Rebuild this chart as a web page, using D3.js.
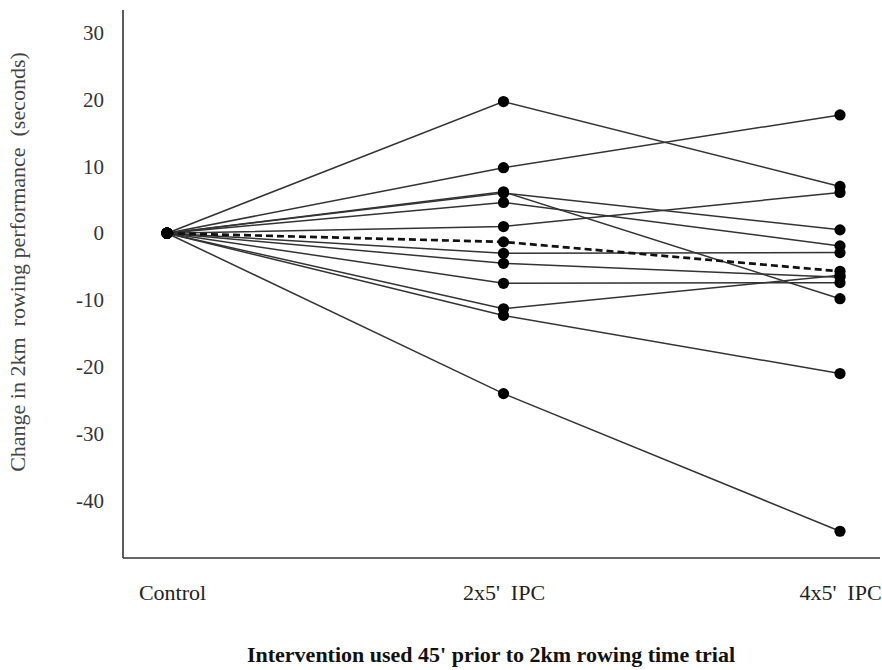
<!DOCTYPE html>
<html>
<head>
<meta charset="utf-8">
<script src="https://cdn.jsdelivr.net/npm/d3@7"></script>
<style>
  html, body { margin: 0; padding: 0; background: #fff; }
  svg { display: block; }
  text { font-family: "Liberation Serif", "Times New Roman", serif; }
</style>
</head>
<body>
<svg id="chart" width="882" height="670"></svg>
<script>
const categories = ["Control", "2x5'  IPC", "4x5'  IPC"];
const controlValues = [0, 0, 0, 0, 0, 0, 0, 0, 0, 0, 0, 0];
const ipc2Values = [19.7, 9.8, 6.2, 6.0, 4.6, 1.0, -3.0, -4.5, -7.5, -11.3, -12.3, -24.0];
const ipc4Values = [7.0, 17.7, -9.8, 0.5, -1.9, 6.1, -2.9, -6.6, -7.4, -6.3, -21.0, -44.6];
const meanValues = [0, -1.3, -5.7];
const yTicks = [30, 20, 10, 0, -10, -20, -30, -40];
const yTitle = "Change in 2km  rowing performance  (seconds)";
const xTitle = "Intervention used 45' prior to 2km rowing time trial";

(function () {
const svg = d3.select("#chart");
const pLeft = 123, pRight = 880, pTop = 10, pBottom = 558;

const x = d3.scalePoint().domain(categories).range([167, 840]);
const y = d3.scaleLinear().domain([-48.6, 33.4]).range([pBottom, pTop]);

// axes lines
svg.append("line").attr("x1", pLeft).attr("x2", pLeft).attr("y1", pTop).attr("y2", pBottom)
  .attr("stroke", "#333").attr("stroke-width", 1.6);
svg.append("line").attr("x1", pLeft).attr("x2", pRight).attr("y1", pBottom).attr("y2", pBottom)
  .attr("stroke", "#333").attr("stroke-width", 1.6);

// y axis tick labels
const yAxis = svg.append("g").attr("transform", `translate(${pLeft},0)`)
  .call(d3.axisLeft(y).tickValues(yTicks).tickSize(0).tickPadding(19).tickFormat(d => String(d)));
yAxis.select(".domain").remove();
yAxis.selectAll("text").attr("font-size", 21).attr("fill", "#333")
  .style("font-family", "'Liberation Serif', serif");

// x axis category labels
const xAxis = svg.append("g").attr("transform", `translate(0,${pBottom})`)
  .call(d3.axisBottom(x).tickSize(0).tickPadding(26));
xAxis.select(".domain").remove();
xAxis.selectAll("text").attr("font-size", 22).attr("fill", "#222")
  .style("white-space", "pre").attr("xml:space", "preserve")
  .style("font-family", "'Liberation Serif', serif");
xAxis.selectAll(".tick").filter((d, i) => i === 0).select("text").attr("dx", 5);

// subject lines
const subjects = ipc2Values.map((v, i) => [controlValues[i], v, ipc4Values[i]]);
const line = d3.line().x((d, i) => x(categories[i])).y(d => y(d));

svg.append("g").selectAll("path").data(subjects).join("path")
  .attr("d", line).attr("fill", "none").attr("stroke", "#333").attr("stroke-width", 1.5);

// mean dashed line
svg.append("path").datum(meanValues).attr("d", line).attr("fill", "none")
  .attr("stroke", "#111").attr("stroke-width", 2.7).attr("stroke-dasharray", "7,4");

// points
const pts = [];
subjects.forEach(s => s.forEach((v, i) => pts.push({c: categories[i], v})));
meanValues.forEach((v, i) => pts.push({c: categories[i], v}));
svg.append("g").selectAll("circle").data(pts).join("circle")
  .attr("cx", d => x(d.c)).attr("cy", d => y(d.v)).attr("r", 5.6).attr("fill", "#000");

// titles
svg.append("text").attr("transform", `translate(25,262) rotate(-90)`)
  .attr("text-anchor", "middle").attr("font-size", 22).attr("fill", "#444")
  .attr("xml:space", "preserve").style("white-space", "pre").text(yTitle);

svg.append("text").attr("x", 491).attr("y", 662).attr("text-anchor", "middle")
  .attr("font-size", 22).attr("font-weight", "bold").attr("fill", "#111").text(xTitle);
})();
</script>
</body>
</html>
